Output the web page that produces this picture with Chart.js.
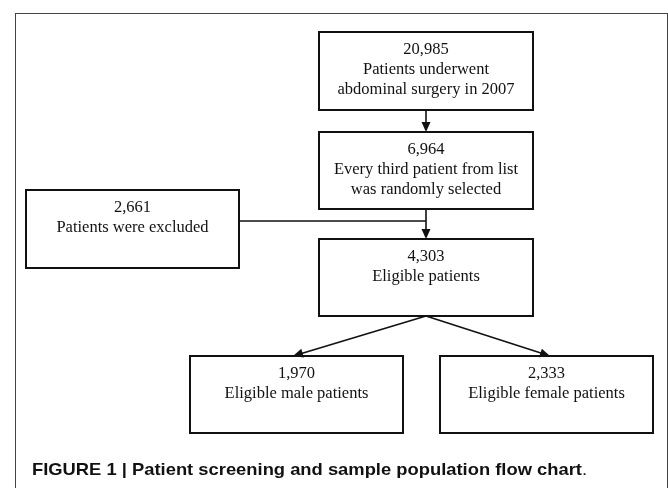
<!DOCTYPE html>
<html>
<head>
<meta charset="utf-8">
<script src="https://cdn.jsdelivr.net/npm/chart.js@4/dist/chart.umd.min.js"></script>
<style>
  html, body { margin: 0; padding: 0; background: #fff; }
  #wrap { position: relative; width: 668px; height: 488px; overflow: hidden; }
  #frame { position: absolute; left: 15px; top: 13px; width: 653px; height: 500px; border: 1px solid #444; box-sizing: border-box; }
  #c { position: absolute; left: 0; top: 0; }
  #caption { position: absolute; left: 32px; top: 460px; font-family: "Liberation Sans", Arial, sans-serif; font-size: 17px; color: #111; white-space: nowrap; transform: scaleX(1.08); transform-origin: left center; }
  #caption b { font-weight: bold; }
</style>
</head>
<body>
<div id="wrap">
  <div id="frame"></div>
  <canvas id="c" width="668" height="488"></canvas>
  <div id="caption"><b>FIGURE 1 | Patient screening and sample population flow chart</b>.</div>
</div>
<script>
// ---- data ----
const stepIds = ["surgery", "selected", "excluded", "eligible", "male", "female"];
const stepCounts = [20985, 6964, 2661, 4303, 1970, 2333];
const stepLabels = [
  ["Patients underwent", "abdominal surgery in 2007"],
  ["Every third patient from list", "was randomly selected"],
  ["Patients were excluded"],
  ["Eligible patients"],
  ["Eligible male patients"],
  ["Eligible female patients"]
];
const links = [["surgery", "selected"], ["selected", "eligible"], ["eligible", "male"], ["eligible", "female"]];
const excludedLink = ["excluded", "selected"];

// ---- layout (positions in scale units) ----
const boxLayout = {
  surgery:  [319, 32, 533, 110],
  selected: [319, 132, 533, 209],
  excluded: [26, 190, 239, 268],
  eligible: [319, 239, 533, 316],
  male:     [190, 356, 403, 433],
  female:   [440, 356, 653, 433]
};
const arrowEnds = { male: 293, female: 550 };
const joinY = 221;

function arrowHead(ctx, x1, y1, x2, y2) {
  const ang = Math.atan2(y2 - y1, x2 - x1);
  const len = 10, half = 4.5;
  const bx = x2 - len * Math.cos(ang), by = y2 - len * Math.sin(ang);
  ctx.beginPath();
  ctx.moveTo(x2, y2);
  ctx.lineTo(bx + half * Math.sin(ang), by - half * Math.cos(ang));
  ctx.lineTo(bx - half * Math.sin(ang), by + half * Math.cos(ang));
  ctx.closePath();
  ctx.fill();
}
function arrow(ctx, x1, y1, x2, y2) {
  const ang = Math.atan2(y2 - y1, x2 - x1);
  ctx.beginPath();
  ctx.moveTo(x1, y1);
  ctx.lineTo(x2 - 8 * Math.cos(ang), y2 - 8 * Math.sin(ang));
  ctx.stroke();
  arrowHead(ctx, x1, y1, x2, y2);
}

const flowPlugin = {
  id: "flow",
  afterDraw(chart) {
    const ctx = chart.ctx, xs = chart.scales.x, ys = chart.scales.y;
    const X = v => xs.getPixelForValue(v), Y = v => ys.getPixelForValue(v);
    const box = id => { const b = boxLayout[id]; return { x0: X(b[0]), y0: Y(b[1]), x1: X(b[2]), y1: Y(b[3]), cx: X((b[0] + b[2]) / 2) }; };
    ctx.save();
    ctx.strokeStyle = "#111"; ctx.fillStyle = "#111";
    stepIds.forEach((id, i) => {
      const b = box(id);
      ctx.lineWidth = 2;
      ctx.strokeRect(b.x0, b.y0, b.x1 - b.x0, b.y1 - b.y0);
      ctx.font = '16.5px "Liberation Serif", "Times New Roman", serif';
      ctx.textAlign = "center"; ctx.textBaseline = "middle";
      ctx.fillStyle = "#111";
      const lines = [stepCounts[i].toLocaleString("en-US")].concat(stepLabels[i]);
      lines.forEach((t, k) => ctx.fillText(t, b.cx, b.y0 + 18 + k * 20));
    });
    ctx.lineWidth = 1.6;
    links.forEach(([a, b]) => {
      const A = box(a), B = box(b);
      if (b === "male" || b === "female") {
        arrow(ctx, A.cx, A.y1, X(arrowEnds[b]), B.y0);
      } else {
        arrow(ctx, A.cx, A.y1, B.cx, B.y0);
      }
    });
    const E = box(excludedLink[0]), S = box(excludedLink[1]);
    ctx.beginPath();
    ctx.moveTo(E.x1, Y(joinY));
    ctx.lineTo(S.cx, Y(joinY));
    ctx.stroke();
    ctx.restore();
  }
};

new Chart(document.getElementById("c"), {
  type: "scatter",
  data: {
    labels: stepIds,
    datasets: [{
      data: stepIds.map(id => ({ x: (boxLayout[id][0] + boxLayout[id][2]) / 2, y: (boxLayout[id][1] + boxLayout[id][3]) / 2 })),
      pointRadius: 0, showLine: false
    }]
  },
  options: {
    responsive: false, animation: false, events: [],
    layout: { padding: 0 },
    scales: {
      x: { type: "linear", min: 0, max: 668, display: false },
      y: { type: "linear", min: 0, max: 488, reverse: true, display: false }
    },
    plugins: { legend: { display: false }, tooltip: { enabled: false }, title: { display: false } }
  },
  plugins: [flowPlugin]
});
</script>
</body>
</html>
